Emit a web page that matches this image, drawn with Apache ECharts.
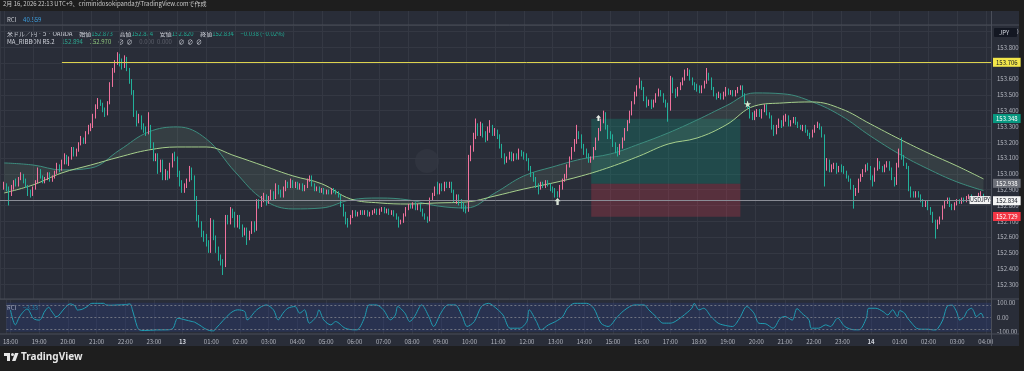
<!DOCTYPE html>
<html><head><meta charset="utf-8">
<script src="https://cdn.jsdelivr.net/npm/echarts@6/dist/echarts.min.js"></script>
<style>html,body{margin:0;padding:0;background:#1e1e1e;}#c{width:1024px;height:371px;}</style>
</head><body><div id="c"></div>
<script>
// ---- data (USD/JPY 5-minute candles, 2026-02-12 18:00 .. 02-14 03:55) ----
const startTime = new Date(2026,1,12,18,0,0).getTime();
const stepMin = 5;
const firstOpen = 152.92;
const closes = [
152.93,152.90,152.88,152.92,152.95,152.93,152.97,152.99,152.95,152.92,152.88,152.87,
152.91,152.95,153.02,152.98,152.95,152.97,153.00,152.96,152.98,153.01,153.05,153.03,
153.08,153.11,153.07,153.10,153.16,153.12,153.15,153.19,153.22,153.20,153.26,153.29,
153.30,153.36,153.42,153.46,153.44,153.40,153.38,153.45,153.56,153.66,153.70,153.74,
153.70,153.68,153.73,153.66,153.58,153.52,153.38,153.33,153.36,153.30,153.28,153.26,
153.30,153.18,153.10,153.12,153.02,153.08,152.98,153.01,152.98,153.06,153.12,153.10,
153.00,152.94,152.90,152.92,152.96,153.03,152.98,152.85,152.72,152.68,152.62,152.60,
152.56,152.52,152.70,152.60,152.52,152.47,152.44,152.42,152.72,152.70,152.77,152.74,
152.68,152.72,152.66,152.62,152.64,152.60,152.63,152.68,152.65,152.82,152.80,152.84,
152.86,152.82,152.84,152.88,152.85,152.92,152.88,152.86,152.90,152.94,152.92,152.95,
152.92,152.94,152.91,152.93,152.90,152.92,152.96,152.98,152.93,152.90,152.91,152.89,
152.90,152.88,152.89,152.88,152.90,152.89,152.88,152.86,152.80,152.75,152.70,152.69,
152.73,152.76,152.74,152.75,152.76,152.75,152.76,152.74,152.75,152.76,152.77,152.75,
152.77,152.78,152.76,152.77,152.75,152.76,152.74,152.72,152.69,152.70,152.74,152.78,
152.80,152.79,152.81,152.78,152.80,152.77,152.74,152.72,152.71,152.84,152.87,152.91,
152.88,152.93,152.90,152.94,152.92,152.94,152.89,152.83,152.86,152.82,152.80,152.78,
152.77,153.10,153.16,153.24,153.30,153.26,153.31,153.25,153.22,153.28,153.30,153.26,
153.27,153.24,153.18,153.12,153.08,153.10,153.13,153.09,153.12,153.10,153.14,153.12,
153.11,153.09,153.04,153.00,152.97,152.93,152.91,152.94,152.92,152.95,152.93,152.91,
152.90,152.87,152.86,152.92,152.96,152.98,153.05,153.10,153.15,153.20,153.25,153.24,
153.18,153.14,153.12,153.09,153.10,153.16,153.22,153.28,153.33,153.38,153.30,153.25,
153.24,153.19,153.15,153.13,153.18,153.22,153.28,153.33,153.38,153.45,153.50,153.55,
153.58,153.54,153.48,153.44,153.46,153.43,153.46,153.50,153.52,153.50,153.46,153.44,
153.41,153.60,153.52,153.50,153.54,153.57,153.60,153.63,153.65,153.60,153.57,153.55,
153.54,153.52,153.55,153.58,153.63,153.60,153.54,153.50,153.49,153.50,153.48,153.50,
153.53,153.51,153.52,153.50,153.52,153.54,153.55,153.50,153.45,153.42,153.37,153.36,
153.38,153.40,153.37,153.40,153.43,153.38,153.36,153.30,153.26,153.30,153.33,153.31,
153.35,153.36,153.31,153.33,153.35,153.32,153.30,153.29,153.30,153.27,153.25,153.24,
153.27,153.30,153.31,153.29,153.24,153.06,153.08,153.03,153.05,153.06,153.02,153.04,
153.03,153.01,152.98,152.96,152.92,152.89,152.90,152.96,152.99,153.02,153.05,153.04,
152.98,152.96,153.03,153.07,153.04,153.02,153.05,153.07,153.03,152.97,152.94,153.05,
153.14,153.10,153.06,153.04,152.90,152.87,152.86,152.88,152.86,152.83,152.80,152.82,
152.78,152.75,152.70,152.67,152.70,152.72,152.79,152.82,152.84,152.80,152.78,152.81,
152.83,152.82,152.84,152.83,152.85,152.86,152.84,152.83,152.85,152.87,152.873,152.834];
const highs = [
152.95,152.94,152.92,152.93,152.96,152.97,152.98,153.01,153.00,152.97,152.93,152.90,
152.92,152.96,153.04,153.03,152.99,152.98,153.01,153.01,152.99,153.02,153.07,153.06,
153.09,153.13,153.12,153.11,153.17,153.17,153.16,153.20,153.24,153.23,153.27,153.31,
153.32,153.38,153.44,153.48,153.47,153.45,153.42,153.46,153.58,153.67,153.72,153.77,
153.76,153.73,153.75,153.74,153.67,153.60,153.53,153.40,153.38,153.37,153.32,153.30,
153.39,153.31,153.20,153.13,153.13,153.09,153.09,153.03,153.02,153.07,153.13,153.14,
153.11,153.02,152.96,152.94,152.97,153.05,153.04,152.99,152.86,152.74,152.70,152.64,
152.62,152.58,152.72,152.71,152.61,152.54,152.49,152.46,152.74,152.74,152.79,152.78,
152.76,152.74,152.74,152.68,152.66,152.66,152.64,152.70,152.70,152.84,152.84,152.86,
152.88,152.87,152.86,152.90,152.89,152.94,152.93,152.90,152.92,152.96,152.95,152.97,
152.96,152.95,152.95,152.94,152.94,152.93,152.97,152.99,152.99,152.94,152.92,152.92,
152.91,152.91,152.90,152.90,152.91,152.91,152.90,152.89,152.87,152.81,152.76,152.72,
152.74,152.77,152.77,152.76,152.77,152.77,152.77,152.77,152.76,152.77,152.78,152.78,
152.78,152.79,152.79,152.78,152.78,152.77,152.77,152.75,152.73,152.71,152.75,152.79,
152.81,152.81,152.82,152.82,152.81,152.81,152.78,152.75,152.73,152.85,152.88,152.92,
152.95,152.94,152.94,152.95,152.95,152.95,152.95,152.90,152.87,152.87,152.84,152.82,
152.80,153.12,153.18,153.26,153.35,153.32,153.33,153.32,153.27,153.30,153.34,153.31,
153.29,153.28,153.25,153.19,153.13,153.11,153.14,153.14,153.13,153.13,153.16,153.15,
153.14,153.13,153.10,153.05,153.01,152.98,152.94,152.95,152.95,152.96,152.96,152.94,
152.92,152.91,152.89,152.93,152.97,153.00,153.06,153.11,153.17,153.22,153.31,153.27,
153.25,153.19,153.16,153.13,153.11,153.17,153.23,153.29,153.35,153.40,153.39,153.31,
153.27,153.25,153.20,153.17,153.19,153.23,153.29,153.34,153.40,153.46,153.52,153.56,
153.61,153.59,153.55,153.49,153.47,153.47,153.47,153.51,153.54,153.53,153.51,153.47,
153.45,153.62,153.61,153.54,153.55,153.58,153.61,153.66,153.67,153.66,153.61,153.58,
153.57,153.56,153.56,153.59,153.67,153.64,153.61,153.55,153.51,153.52,153.51,153.52,
153.55,153.54,153.53,153.53,153.53,153.55,153.56,153.56,153.51,153.46,153.43,153.39,
153.40,153.41,153.41,153.41,153.44,153.44,153.39,153.37,153.31,153.31,153.35,153.34,
153.37,153.38,153.37,153.34,153.36,153.36,153.33,153.31,153.31,153.31,153.28,153.26,
153.28,153.31,153.33,153.32,153.30,153.25,153.10,153.09,153.06,153.07,153.07,153.05,
153.06,153.05,153.02,152.99,152.97,152.93,152.91,152.97,153.00,153.03,153.06,153.07,
153.05,152.99,153.04,153.10,153.08,153.05,153.06,153.08,153.08,153.04,152.98,153.07,
153.16,153.23,153.12,153.07,153.05,152.92,152.89,152.89,152.89,152.87,152.84,152.83,
152.83,152.79,152.76,152.71,152.71,152.73,152.80,152.83,152.85,152.85,152.81,152.82,
152.84,152.84,152.85,152.85,152.86,152.87,152.87,152.85,152.86,152.88,152.89,152.874];
const lows = [
152.90,152.89,152.80,152.86,152.90,152.92,152.92,152.96,152.94,152.91,152.86,152.85,
152.86,152.90,152.94,152.97,152.94,152.94,152.96,152.95,152.95,152.97,153.00,153.01,
153.02,153.06,153.06,153.05,153.09,153.11,153.11,153.14,153.18,153.19,153.19,153.25,
153.27,153.29,153.35,153.41,153.43,153.39,153.36,153.37,153.44,153.55,153.64,153.69,
153.68,153.66,153.67,153.65,153.57,153.50,153.36,153.30,153.32,153.28,153.26,153.24,
153.25,153.16,153.08,153.08,153.00,153.01,152.96,152.96,152.96,152.97,153.04,153.08,
152.98,152.92,152.88,152.88,152.91,152.95,152.96,152.83,152.70,152.66,152.60,152.57,
152.54,152.50,152.50,152.58,152.50,152.45,152.42,152.36,152.41,152.68,152.68,152.72,
152.66,152.66,152.65,152.60,152.61,152.55,152.58,152.62,152.63,152.64,152.78,152.79,
152.82,152.80,152.81,152.83,152.83,152.84,152.87,152.85,152.85,152.89,152.91,152.91,
152.91,152.91,152.90,152.90,152.89,152.89,152.91,152.95,152.92,152.89,152.89,152.88,
152.88,152.87,152.87,152.87,152.87,152.88,152.87,152.85,152.79,152.73,152.68,152.66,
152.68,152.72,152.73,152.73,152.74,152.74,152.74,152.73,152.73,152.74,152.75,152.74,
152.74,152.76,152.75,152.75,152.74,152.74,152.73,152.71,152.66,152.68,152.69,152.73,
152.77,152.78,152.78,152.77,152.77,152.76,152.73,152.71,152.69,152.70,152.83,152.86,
152.87,152.87,152.89,152.89,152.91,152.91,152.88,152.82,152.81,152.80,152.78,152.76,
152.75,152.76,153.08,153.14,153.22,153.24,153.24,153.23,153.20,153.21,153.26,153.24,
153.24,153.22,153.16,153.10,153.06,153.07,153.09,153.08,153.08,153.09,153.09,153.11,
153.09,153.08,153.02,152.98,152.95,152.91,152.87,152.90,152.91,152.91,152.92,152.89,
152.88,152.85,152.85,152.85,152.90,152.95,152.97,153.04,153.09,153.14,153.19,153.22,
153.16,153.12,153.10,153.07,153.07,153.09,153.15,153.21,153.27,153.32,153.28,153.22,
153.22,153.17,153.13,153.11,153.12,153.16,153.21,153.27,153.32,153.37,153.44,153.49,
153.54,153.53,153.46,153.42,153.43,153.41,153.42,153.45,153.49,153.49,153.45,153.42,
153.33,153.40,153.51,153.48,153.49,153.53,153.56,153.59,153.62,153.59,153.56,153.53,
153.52,153.51,153.51,153.54,153.57,153.59,153.53,153.49,153.47,153.48,153.47,153.47,
153.49,153.50,153.50,153.49,153.49,153.51,153.53,153.49,153.44,153.41,153.35,153.34,
153.34,153.36,153.36,153.35,153.39,153.37,153.35,153.28,153.24,153.25,153.29,153.29,
153.30,153.33,153.30,153.30,153.32,153.31,153.29,153.28,153.27,153.26,153.24,153.22,
153.23,153.26,153.29,153.28,153.23,152.92,153.02,153.01,153.01,153.03,153.00,153.01,
153.01,153.00,152.97,152.95,152.90,152.78,152.86,152.88,152.95,152.98,153.01,153.02,
152.96,152.92,152.95,153.02,153.03,153.01,153.01,153.04,153.02,152.96,152.92,152.93,
153.04,153.09,153.05,153.03,152.89,152.85,152.85,152.85,152.85,152.82,152.79,152.79,
152.77,152.74,152.69,152.59,152.65,152.68,152.71,152.78,152.81,152.79,152.77,152.77,
152.80,152.81,152.81,152.82,152.82,152.84,152.83,152.82,152.82,152.84,152.86,152.820];
// MA ribbon read hourly (hours after 12th 18:00)
const maHours = [0,1,2,3,4,5,6,7,8,9,10,11,12,13,14,15,16,17,18,19,20,21,22,23,24,25,26,27,28,29,30,31,32,33,33.92];
const fastMA = [153.069,153.056,153.025,153.037,153.151,153.265,153.297,153.221,153.012,152.835,152.778,152.784,152.835,152.847,152.835,152.797,152.784,152.879,152.987,153.044,153.094,153.126,153.189,153.259,153.341,153.430,153.512,153.506,153.455,153.366,153.240,153.126,153.031,152.949,152.894];
const slowMA = [152.879,152.930,153.006,153.056,153.107,153.151,153.170,153.170,153.113,153.050,152.987,152.937,152.841,152.816,152.809,152.816,152.822,152.860,152.904,152.942,152.987,153.044,153.113,153.189,153.227,153.309,153.430,153.449,153.455,153.411,153.316,153.221,153.132,153.050,152.968];
// RCI readings: candle index and value
const rciIdx = [0,2,4,7,8,9,10,12,13,14,16,17,18,19,20,22,24,25,27,28,30,32,34,39,40,42,45,48,50,51,53,54,56,61,66,68,70,73,76,77,80,81,84,85,86,92,95,98,99,103,107,110,112,114,116,119,121,123,125,128,129,131,134,136,140,144,145,148,150,153,156,159,161,162,165,167,169,172,175,177,180,183,186,189,191,194,197,200,202,206,209,213,216,217,220,222,225,228,231,233,236,241,244,247,250,254,257,261,265,267,270,273,276,278,281,285,286,288,290,293,296,298,302,305,308,311,313,316,319,322,324,327,329,331,334,335,338,341,343,346,349,353,355,358,359,362,365,367,369,371,372,374,375,377,379,381,384,386,387,388,390,391,392,394,395,396,397,399,400,401,402,403,404,406,407];
const rciVal = [50,-53,9,57,39,4,-14,-20,-7,32,69,46,23,4,9,50,85,92,78,50,55,73,96,96,85,83,85,87,92,50,-65,-88,-92,-88,-87,-76,-7,-18,-30,-34,-64,-76,-94,-94,-76,28,51,39,-18,51,85,51,-18,28,62,74,28,51,-41,5,51,-18,-53,-30,-76,-87,-87,-7,85,85,51,-18,16,74,28,-30,5,85,5,-64,28,85,85,5,-64,-30,74,96,78,16,-76,-76,-30,51,-30,-87,-53,-30,5,62,96,96,62,-41,-64,5,51,85,85,51,5,-41,-41,-30,5,62,96,51,62,5,-41,-53,-64,-7,74,28,-41,-46,-76,-7,5,-20,60,28,-18,-76,-76,-53,-64,-7,-64,-87,-87,-7,62,62,39,16,51,5,46,28,0,-41,-76,-83,-83,-88,-88,-76,-19,39,78,83,62,28,-19,4,39,55,62,39,4,28,-3.33];
const rciTicks = [100,0,-100];
const levels = {target:153.348, entry:152.938, stop:152.729, resist:153.706, last:152.834};
const toolStartIdx = 244, toolEndIdx = 306, resistStartIdx = 24;
const arrowUp1 = {idx:230, price:152.85}, arrowUp2 = {idx:247, price:153.354}, star = {idx:309, price:153.442};

// ---- build ----
const H = 3600000, STEP = stepMin*60000;
const tIdx = i => startTime + i*STEP;
const xMin = startTime - 0.145*H, xMax = startTime + 34.18*H;
const UP='#f0729d', DOWN='#22b09a', FAST='#3d8c7e', SLOW='#a6cf8c';
const candleData = closes.map((c,i)=>[tIdx(i), i===0?firstOpen:closes[i-1], c, lows[i], highs[i]]);
const fastData = maHours.map((h,i)=>[startTime+h*H, fastMA[i]]);
const diffData = maHours.map((h,i)=>[startTime+h*H, slowMA[i]-fastMA[i]]);
const rciData = rciIdx.map((ix,k)=>[tIdx(ix), rciVal[k]]);
const FONT = 'Noto Sans CJK JP';
const txtCol = '#b2b5be';
const pad = n => (n<10?'0':'')+n;
function lbl(v,bg,fg){return {formatter:v.toFixed(3),position:'end',distance:2,backgroundColor:bg,color:fg,fontSize:6,fontFamily:FONT,padding:[2,3,1,3]};}
const ARROW='path://M5,0 L10,5 L7,5 L7,11 L3,11 L3,5 L0,5 Z';

const xBase = {type:'time',min:xMin,max:xMax,minInterval:H,maxInterval:H,axisLine:{show:false},axisTick:{show:false},axisLabel:{show:false},splitLine:{show:true,lineStyle:{color:'#343843',width:1}}};

const option = {
  backgroundColor:'#1e1e1e',
  animation:false,
  textStyle:{fontFamily:FONT},
  grid:[
    {left:0,right:33,top:11,height:14},
    {left:0,right:33,top:25,height:274},
    {left:0,right:33,top:299,height:35}
  ],
  xAxis:[
    Object.assign({},xBase,{gridIndex:0}),
    Object.assign({},xBase,{gridIndex:1}),
    Object.assign({},xBase,{gridIndex:2,axisLabel:{show:true,color:txtCol,fontSize:6,fontFamily:FONT,margin:5,
      alignMinLabel:'center',alignMaxLabel:'center',
      formatter:function(v){const d=new Date(v);if(d.getHours()===0&&d.getMinutes()===0)return '{b|'+d.getDate()+'}';return pad(d.getHours())+':'+pad(d.getMinutes());},
      rich:{b:{fontWeight:'bold',color:'#d1d4dc',fontSize:6,fontFamily:FONT}}}})
  ],
  yAxis:[
    {gridIndex:0,type:'value',min:0,max:1,axisLabel:{show:false},splitLine:{show:false},axisLine:{show:false},axisTick:{show:false}},
    {gridIndex:1,type:'value',position:'right',min:152.208,max:153.942,splitNumber:17,scale:true,
      axisLine:{show:false},axisTick:{show:false},
      axisLabel:{color:txtCol,fontSize:6,fontFamily:FONT,margin:6,showMinLabel:false,showMaxLabel:false,formatter:v=>v.toFixed(3)},
      splitLine:{lineStyle:{color:'#343843'}}},
    {gridIndex:2,type:'value',position:'right',min:-116,max:126,
      axisLine:{show:false},axisTick:{show:false},splitLine:{show:false},
      axisLabel:{color:txtCol,fontSize:6,fontFamily:FONT,margin:6,showMinLabel:false,showMaxLabel:false,
        formatter:v=>rciTicks.includes(v)?v.toFixed(2):''}}
  ],
  series:[
    {type:'line',name:'fast',xAxisIndex:1,yAxisIndex:1,data:fastData,smooth:0.4,symbol:'none',stack:'rib',stackStrategy:'all',
      lineStyle:{color:FAST,width:1},z:2},
    {type:'line',name:'slow',xAxisIndex:1,yAxisIndex:1,data:diffData,smooth:0.4,symbol:'none',stack:'rib',stackStrategy:'all',
      lineStyle:{color:SLOW,width:1},areaStyle:{color:'rgba(150,200,160,0.16)'},z:2},
    {type:'candlestick',xAxisIndex:1,yAxisIndex:1,data:candleData,encode:{x:0,y:[1,2,3,4]},barWidth:1,clip:false,
      itemStyle:{color:UP,color0:DOWN,borderColor:UP,borderColor0:DOWN,borderWidth:1},z:3,
      markArea:{silent:true,data:[
        [{coord:[tIdx(toolStartIdx),levels.target],itemStyle:{color:'rgba(16,150,125,0.28)'}},{coord:[tIdx(toolEndIdx),levels.entry]}],
        [{coord:[tIdx(toolStartIdx),levels.entry],itemStyle:{color:'rgba(235,60,80,0.24)'}},{coord:[tIdx(toolEndIdx),levels.stop]}]
      ]},
      markLine:{silent:true,symbol:'none',animation:false,data:[
        [{coord:[tIdx(resistStartIdx),levels.resist],lineStyle:{color:'#dcd24e',width:1,type:'solid'}},{coord:[xMax,levels.resist],label:lbl(levels.resist,'#f2e64a','#131722')}],
        {yAxis:levels.last,lineStyle:{color:'#8a8d96',width:1,type:'solid'},label:lbl(levels.last,'#f4f4f4','#131722')},
        {yAxis:levels.target,lineStyle:{color:'rgba(0,0,0,0)',width:0},label:lbl(levels.target,'#089981','#ffffff')},
        {yAxis:levels.entry,lineStyle:{color:'rgba(0,0,0,0)',width:0},label:lbl(levels.entry,'#6c6f78','#ffffff')},
        {yAxis:levels.stop,lineStyle:{color:'rgba(0,0,0,0)',width:0},label:lbl(levels.stop,'#f23645','#ffffff')}
      ]},
      markPoint:{silent:true,data:[
        {coord:[tIdx(arrowUp1.idx),arrowUp1.price],symbol:ARROW,symbolSize:[6,7],symbolOffset:[0,4],itemStyle:{color:'#d8e2d6'},label:{show:false}},
        {coord:[tIdx(arrowUp2.idx),arrowUp2.price],symbol:ARROW,symbolSize:[5,6],symbolOffset:[0,0],itemStyle:{color:'#e8ece6'},label:{show:false}},
        {coord:[tIdx(star.idx),star.price],symbol:'path://M50,0 L61,35 L98,35 L68,57 L79,91 L50,70 L21,91 L32,57 L2,35 L39,35 Z',symbolSize:7,itemStyle:{color:'#d9ecd0'},label:{show:false}},
        {coord:[xMax,levels.last],symbol:'rect',symbolSize:[21,8],symbolOffset:[-11,0],itemStyle:{color:'#f4f4f4'},
          label:{show:true,position:'inside',formatter:'USDJPY',color:'#131722',fontSize:5.5,fontFamily:FONT}}
      ]}
    },
    {type:'line',xAxisIndex:2,yAxisIndex:2,data:rciData,smooth:0.3,symbol:'none',lineStyle:{color:'#1f9db2',width:1},z:3,
      markArea:{silent:true,data:[[{yAxis:100,itemStyle:{color:'rgba(40,70,170,0.22)'}},{yAxis:-100}]]},
      markLine:{silent:true,symbol:'none',label:{show:false},lineStyle:{color:'#6f7380',type:[2,2],width:1},data:[{yAxis:80},{yAxis:0},{yAxis:-80}]}}
  ],
  graphic:[
    {type:'rect',z:-10,shape:{x:0,y:11,width:1019,height:335},style:{fill:'#292d38'}},
    {type:'line',z:10,shape:{x1:0,y1:25,x2:1019,y2:25},style:{stroke:'#4a4e59',lineWidth:1}},
    {type:'line',z:10,shape:{x1:0,y1:299,x2:1019,y2:299},style:{stroke:'#4a4e59',lineWidth:1}},
    {type:'line',z:10,shape:{x1:0,y1:334,x2:1019,y2:334},style:{stroke:'#4a4e59',lineWidth:1}},
    {type:'line',z:10,shape:{x1:991.5,y1:11,x2:991.5,y2:346},style:{stroke:'#4a4e59',lineWidth:1}},
    {type:'text',left:3,top:1,style:{text:'2月 16, 2026 22:13 UTC+9、criminidosokipandaがTradingView.comで作成',fill:'#c8c8c8',fontSize:6,fontFamily:FONT}},
    {type:'text',left:7,top:14,style:{text:'{a|RCI}  {b|40.559}',rich:{a:{fill:'#c8cad0',fontSize:6,fontFamily:FONT},b:{fill:'#3d9fe0',fontSize:6,fontFamily:FONT}}}},
    {type:'text',left:7,top:28,style:{text:'{w|米ドル／円 · 5 · OANDA}  {w|始値}{g|152.873}  {w|高値}{g|152.874}  {w|安値}{g|152.820}  {w|終値}{g|152.834}  {g|−0.038 (−0.02%)}',
      rich:{w:{fill:'#d1d4dc',fontSize:6,fontFamily:FONT},g:{fill:'#22ab94',fontSize:6,fontFamily:FONT}}}},
    {type:'text',left:7,top:36,style:{text:'{w|MA_RIBBON R5.2}  {f|152.894}  {s|152.970}  {w|∅  ∅}  {d|0.000  0.000}  {w|∅  ∅  ∅}',
      rich:{w:{fill:'#d1d4dc',fontSize:6,fontFamily:FONT},f:{fill:'#2fa58f',fontSize:6,fontFamily:FONT},s:{fill:'#8fc77d',fontSize:6,fontFamily:FONT},d:{fill:'#5d606b',fontSize:6,fontFamily:FONT}}}},
    {type:'rect',z:10,shape:{x:994,y:28,width:23,height:9,r:1},style:{fill:'#131722'}},
    {type:'text',z:11,left:999,top:29.5,style:{text:'JPY',fill:'#d1d4dc',fontSize:6,fontFamily:FONT}},
    {type:'text',left:7,top:302,style:{text:'{a|RCI}  {b|−3.33}',rich:{a:{fill:'#c8cad0',fontSize:6,fontFamily:FONT},b:{fill:'#1f9db2',fontSize:6,fontFamily:FONT}}}},
    {type:'circle',shape:{cx:427,cy:161,r:12},style:{fill:'rgba(255,255,255,0.035)'}},
    {type:'group',left:4,top:353,children:[
      {type:'rect',shape:{x:0,y:0,width:6,height:3},style:{fill:'#e6e6e6'}},
      {type:'rect',shape:{x:3,y:0,width:3,height:8},style:{fill:'#e6e6e6'}},
      {type:'circle',shape:{cx:8.5,cy:1.5,r:1.5},style:{fill:'#e6e6e6'}},
      {type:'polygon',shape:{points:[[11,0],[14.5,0],[11.5,8],[8,8]]},style:{fill:'#e6e6e6'}}
    ]},
    {type:'text',left:21,top:352,style:{text:'TradingView',fill:'#e6e6e6',fontSize:10,fontWeight:'bold',fontFamily:'Noto Sans'}}
  ]
};
const chart = echarts.init(document.getElementById('c'));
chart.setOption(option);
</script></body></html>
